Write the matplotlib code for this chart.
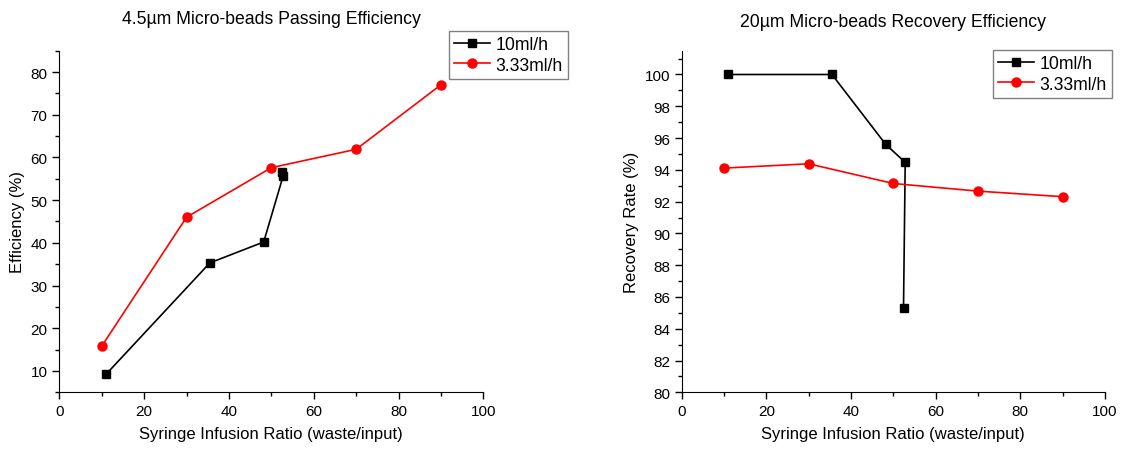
import matplotlib.pyplot as plt
from matplotlib.ticker import MultipleLocator

plt.rcParams["font.family"] = ["Liberation Sans", "DejaVu Sans"]

# syringe infusion ratio (waste/input)
ratio_10 = [11.0, 35.5, 48.2, 52.8, 52.4]
ratio_333 = [10, 30, 50, 70, 90]

# 4.5um passing efficiency (%)
pass_10 = [9.2, 35.3, 40.2, 55.7, 56.6]
pass_333 = [15.8, 46.0, 57.6, 61.9, 77.0]

# 20um recovery rate (%)
rec_10 = [100.0, 100.0, 95.6, 94.47, 85.33]
rec_333 = [94.11, 94.38, 93.14, 92.66, 92.31]

labels = ["10ml/h", "3.33ml/h"]

fig = plt.figure(figsize=(11.24, 4.52), dpi=100)
ax1 = fig.add_axes([0.0528, 0.1299, 0.3772, 0.7558])
ax2 = fig.add_axes([0.6065, 0.1299, 0.3766, 0.7558])


def style(ax):
    for side in ("top", "right"):
        ax.spines[side].set_visible(False)
    ax.set_xlim(0, 100)
    ax.xaxis.set_major_locator(MultipleLocator(20))
    ax.xaxis.set_minor_locator(MultipleLocator(10))
    ax.tick_params(which="major", direction="out", length=5, width=1, labelsize=11)
    ax.tick_params(which="minor", direction="out", length=3, width=1)
    ax.set_xlabel("Syringe Infusion Ratio (waste/input)", fontsize=12, labelpad=6)


for ax, ys10, ys333 in ((ax1, pass_10, pass_333), (ax2, rec_10, rec_333)):
    ax.plot(ratio_10, ys10, "-s", color="black", lw=1.2, ms=6, label=labels[0])
    ax.plot(ratio_333, ys333, "-o", color="red", lw=1.2, ms=6.5, label=labels[1])
    style(ax)

ax1.set_ylim(5, 85)
ax1.yaxis.set_major_locator(MultipleLocator(10))
ax1.yaxis.set_minor_locator(MultipleLocator(5))
ax1.set_ylabel("Efficiency (%)", fontsize=12)
ax1.set_title("4.5µm Micro-beads Passing Efficiency", fontsize=12.7, pad=20)

ax2.set_ylim(80, 101.5)
ax2.yaxis.set_major_locator(MultipleLocator(2))
ax2.yaxis.set_minor_locator(MultipleLocator(1))
ax2.set_ylabel("Recovery Rate (%)", fontsize=12)
ax2.set_title("20µm Micro-beads Recovery Efficiency", fontsize=12.7, pad=18)

for ax, anchor in ((ax1, (449 / 1124, 1 - 31.7 / 452)),
                   (ax2, (993 / 1124, 1 - 50.7 / 452))):
    leg = ax.legend(loc="upper left", bbox_to_anchor=anchor, bbox_transform=fig.transFigure,
                    fontsize=12.7, fancybox=False, edgecolor="gray", framealpha=1,
                    borderpad=0.3, labelspacing=0.2, handlelength=2.0, handletextpad=0.35,
                    borderaxespad=0)
    leg.get_frame().set_linewidth(1.0)

fig.savefig("out.png", dpi=100)
